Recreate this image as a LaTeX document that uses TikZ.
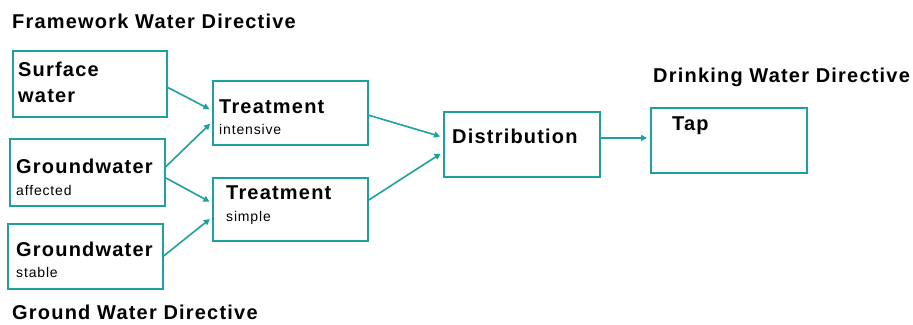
\documentclass[tikz,border=0pt]{standalone}
\usepackage{fontspec}
\setmainfont{Liberation Sans}
\usetikzlibrary{arrows.meta}
\definecolor{tealline}{RGB}{30,160,160}
\tikzset{
  box/.style={draw=tealline,line width=2pt,minimum width=155pt,minimum height=65pt,inner sep=0pt,outer sep=0pt},
  big/.style={anchor=west,inner sep=0pt,font=\fontsize{20}{22}\selectfont\bfseries\addfontfeatures{LetterSpace=6}},
  small/.style={anchor=west,inner sep=0pt,font=\fontsize{14}{16}\selectfont\addfontfeatures{LetterSpace=6}},
  link/.style={draw=tealline,line width=1.6pt,-{Triangle[length=6pt,width=6pt]},shorten >=4pt}
}
\begin{document}
\begin{tikzpicture}[x=1pt,y=-1pt]

  \useasboundingbox (0,0) rectangle (913,324);

  % draw boxes
  \node[box,minimum width=154pt,minimum height=66pt] (surf) at (90,84) {};
  \node[box,minimum height=67pt] (gwa) at (87.5,172.5) {};
  \node[box] (gws) at (85.5,256.5) {};
  \node[box,minimum height=64pt] (tint) at (290.5,113) {};
  \node[box,minimum height=63pt] (tsim) at (290.5,209.5) {};
  \node[box,minimum width=156pt] (dist) at (522,144.5) {};
  \node[box,minimum width=156pt] (tap) at (729,140.5) {};

  % titles
  \node[big] (fwd) at (12,21) {Framework Water Directive};
  \node[big] (gwd) at (12,312) {Ground Water Directive};
  \node[big] (dwd) at (653,77) {Drinking Water Directive};

  % box texts
  \node[big] (surft) at (18,69) {Surface};
  \node[big] (surfw) at (18,96) {water};
  \node[big] (gwat) at (16,166) {Groundwater};
  \node[small] (gwas) at (16,190) {affected};
  \node[big] (gwst) at (16,249) {Groundwater};
  \node[small] (gwss) at (16,272) {stable};
  \node[big] (tintt) at (219,107) {Treatment};
  \node[small] (tints) at (219,129) {intensive};
  \node[big] (tsimt) at (226,193) {Treatment};
  \node[small] (tsims) at (226,218) {simple};
  \node[big] (distt) at (452,136) {Distribution};
  \node[big] (tapt) at (672,126) {Tap};

  % draw arrows
  \draw[link] ([yshift=-3pt]surf.east) -- ([yshift=2pt]tint.west);
  \draw[link] ([yshift=5pt]gwa.east) -- ([yshift=-8pt]tint.west);
  \draw[link] ([yshift=-5pt]gwa.east) -- ([yshift=6pt]tsim.west);
  \draw[link] (gws.east) -- ([yshift=-7pt]tsim.west);
  \draw[link] ([yshift=-2pt]tint.east) -- ([yshift=7pt]dist.west);
  \draw[link] ([yshift=9pt]tsim.east) -- ([yshift=-7pt]dist.west);
  \draw[link] ([yshift=6.5pt]dist.east) -- ([yshift=2.5pt]tap.west);
\end{tikzpicture}
\end{document}
